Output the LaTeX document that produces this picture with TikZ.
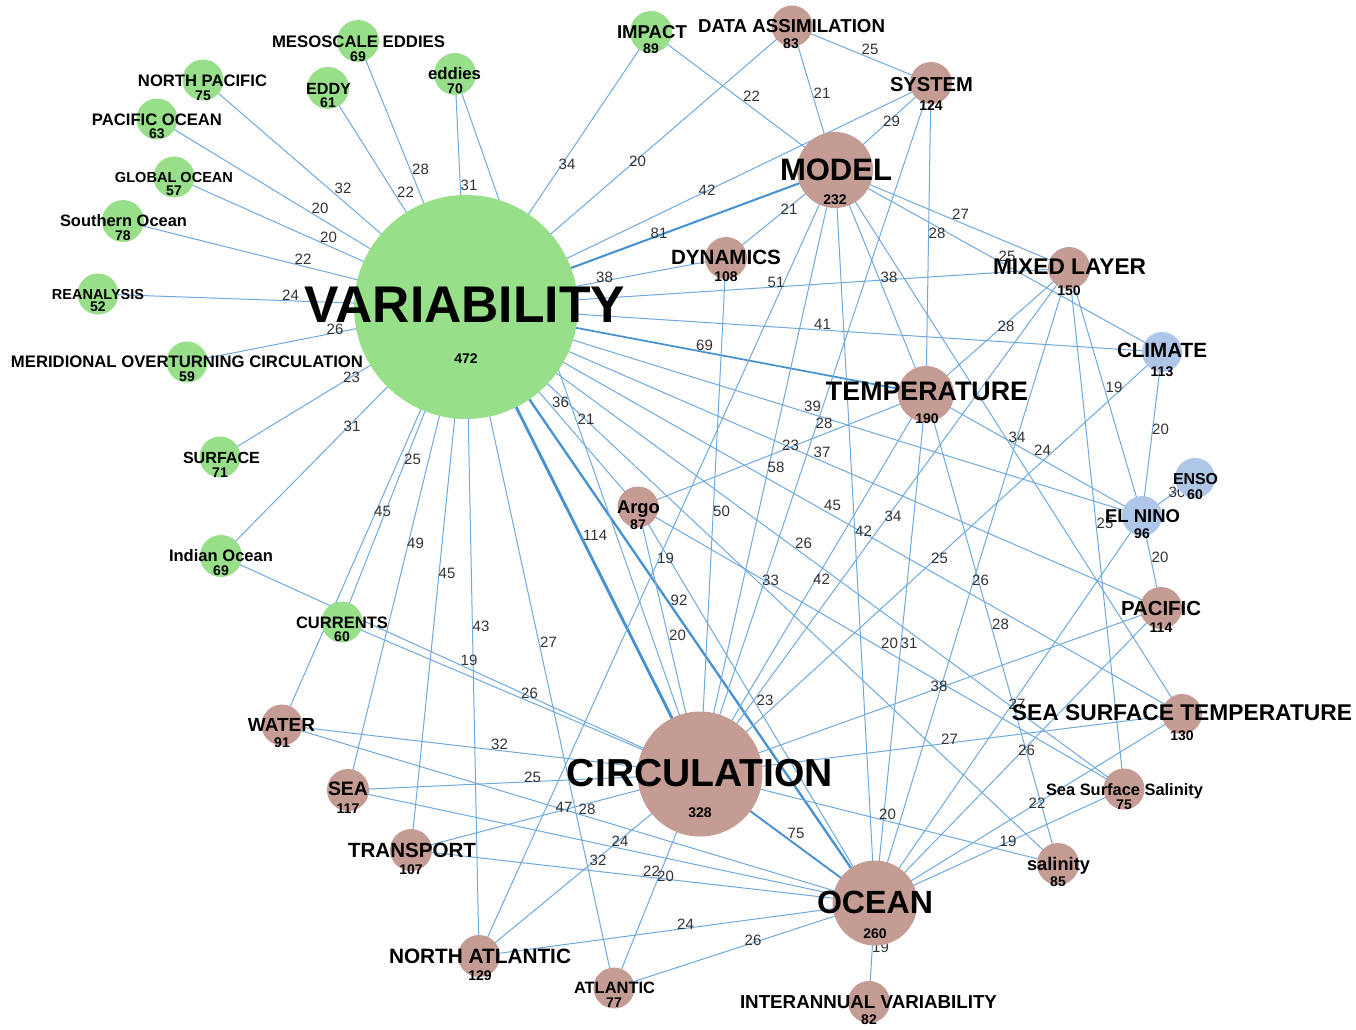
\documentclass[tikz,border=0pt]{standalone}
\usepackage{fontspec}
\setmainfont{Liberation Sans}
\usepackage{graphicx}
\pgfdeclarelayer{bg}
\pgfdeclarelayer{edges}
\pgfdeclarelayer{elabels}
\pgfdeclarelayer{top}
\pgfsetlayers{bg,edges,elabels,main,top}
\definecolor{gnode}{HTML}{98DF8A}
\definecolor{bnode}{HTML}{C49C94}
\definecolor{lnode}{HTML}{AEC7E8}
\definecolor{ethin}{RGB}{110,170,222}
\definecolor{ethick}{RGB}{70,145,210}
\definecolor{wtxt}{RGB}{51,51,51}
\tikzset{
  vtx/.style={circle, draw=none, inner sep=0pt},
  wlab/.style={anchor=base west, inner sep=0pt, text=wtxt, font=\fontsize{15}{15}\selectfont},
  numlab/.style={anchor=center, inner sep=0pt, text=black, font=\bfseries\fontsize{14}{14}\selectfont},
  namelab/.style={anchor=base, inner sep=0pt, text=black}
}
\newcommand\vt[5]{\node[vtx, fill=#5, minimum size=#4pt] (#1) at (#2,#3) {};}
\newcommand\nm[4]{\begin{pgfonlayer}{top}\node[namelab] at (#1,#2) {\resizebox{#3pt}{!}{\bfseries #4}};\end{pgfonlayer}}
\newcommand\nb[3]{\begin{pgfonlayer}{top}\node[numlab] at (#1,#2) {#3};\end{pgfonlayer}}
\newcommand\ed[3]{%
  \ifnum#3>60\relax\pgfmathsetmacro\lw{#3/40}\def\ec{ethick}\else\def\lw{1}\def\ec{ethin}\fi
  \begin{pgfonlayer}{edges}\draw[draw=\ec, line width=\lw pt] (#1.center) -- (#2.center);\end{pgfonlayer}%
  \begin{pgfonlayer}{elabels}\path (#1.center) -- (#2.center) node[wlab, pos=0.5] {#3};\end{pgfonlayer}}
\begin{document}
\begin{tikzpicture}[x=1pt, y=-1pt]
\begin{pgfonlayer}{bg}
\fill[white] (0,0) rectangle (1356,1029);
\end{pgfonlayer}
\useasboundingbox (0,0) rectangle (1356,1029);
% nodes
\vt{V}{466}{307}{224}{gnode}
\vt{MO}{835}{170}{76}{bnode}
\vt{CI}{700}{774}{125}{bnode}
\vt{OC}{875}{903}{85}{bnode}
\vt{TE}{926}{394}{56}{bnode}
\vt{ML}{1069}{268}{42}{bnode}
\vt{SY}{931}{83}{42}{bnode}
\vt{DA}{792}{26}{41}{bnode}
\vt{IM}{651}{32}{42}{gnode}
\vt{DY}{726}{258}{42}{bnode}
\vt{CL}{1162}{352}{40}{lnode}
\vt{EN}{1195}{478}{40}{lnode}
\vt{EL}{1142}{516}{40}{lnode}
\vt{PA}{1161}{608}{42}{bnode}
\vt{SST}{1182}{714}{40}{bnode}
\vt{SSS}{1124}{789}{41}{bnode}
\vt{SA}{1058}{864}{42}{bnode}
\vt{IV}{869}{1002}{42}{bnode}
\vt{AT}{614}{988}{41}{bnode}
\vt{NA}{479}{956}{42}{bnode}
\vt{TR}{411}{850}{42}{bnode}
\vt{SE}{348}{790}{42}{bnode}
\vt{WA}{282}{725}{41}{bnode}
\vt{AR}{638}{507}{41}{bnode}
\vt{CU}{342}{622}{41}{gnode}
\vt{IO}{221}{556}{42}{gnode}
\vt{SU}{220}{457}{41}{gnode}
\vt{MOC}{187}{362}{41}{gnode}
\vt{RE}{98}{294}{41}{gnode}
\vt{SO}{123}{221}{42}{gnode}
\vt{GO}{174}{177}{41}{gnode}
\vt{PO}{157}{119}{41}{gnode}
\vt{NP}{203}{80}{41}{gnode}
\vt{ED}{328}{88}{42}{gnode}
\vt{ME}{358}{41}{42}{gnode}
\vt{EE}{455}{74}{42}{gnode}
% edges
\ed{V}{NP}{32}\ed{V}{PO}{20}\ed{V}{GO}{20}\ed{V}{SO}{22}\ed{V}{RE}{24}\ed{V}{MOC}{26}
\ed{V}{SU}{23}\ed{V}{IO}{31}\ed{V}{ED}{22}\ed{V}{ME}{28}\ed{V}{EE}{31}\ed{V}{IM}{34}
\ed{V}{DA}{20}\ed{V}{SY}{42}\ed{V}{MO}{81}\ed{V}{DY}{38}\ed{V}{ML}{51}\ed{V}{CL}{41}
\ed{V}{TE}{69}\ed{V}{EL}{39}\ed{V}{PA}{37}\ed{V}{SST}{45}\ed{V}{SSS}{26}\ed{V}{SA}{33}
\ed{V}{AR}{36}\ed{V}{OC}{92}\ed{V}{CI}{114}\ed{V}{CU}{25}\ed{V}{WA}{45}\ed{V}{SE}{49}
\ed{V}{TR}{45}\ed{V}{NA}{43}\ed{V}{AT}{27}
\ed{EE}{CI}{21}\ed{IO}{CI}{19}\ed{CU}{CI}{26}
\ed{DA}{SY}{25}\ed{IM}{MO}{22}\ed{DA}{MO}{21}\ed{SY}{MO}{29}\ed{DY}{MO}{21}\ed{MO}{TE}{38}
\ed{MO}{ML}{27}\ed{MO}{CL}{25}\ed{MO}{SST}{34}\ed{MO}{CI}{58}\ed{MO}{OC}{42}\ed{MO}{NA}{19}
\ed{SY}{TE}{28}\ed{SY}{CI}{28}\ed{DY}{CI}{50}
\ed{ML}{TE}{28}\ed{ML}{CI}{34}\ed{ML}{OC}{26}\ed{ML}{EL}{19}\ed{ML}{SSS}{25}
\ed{CL}{EL}{20}\ed{CL}{CI}{25}
\ed{AR}{TE}{23}\ed{TE}{EL}{24}\ed{TE}{CI}{42}\ed{TE}{OC}{31}\ed{TE}{SA}{28}
\ed{EL}{EN}{30}\ed{EL}{PA}{20}\ed{EL}{OC}{27}
\ed{PA}{CI}{38}\ed{PA}{OC}{26}
\ed{SST}{CI}{27}\ed{SST}{OC}{22}
\ed{AR}{CI}{20}\ed{AR}{OC}{23}\ed{AR}{SSS}{20}
\ed{SSS}{OC}{19}\ed{SA}{CI}{20}\ed{CI}{OC}{75}
\ed{WA}{CI}{32}\ed{WA}{OC}{28}\ed{SE}{CI}{25}\ed{SE}{OC}{24}\ed{TR}{CI}{47}\ed{TR}{OC}{22}
\ed{NA}{CI}{32}\ed{NA}{OC}{24}\ed{AT}{CI}{20}\ed{AT}{OC}{26}\ed{IV}{OC}{19}
% names
\nm{465}{322}{320}{VARIABILITY}
\nm{836}{180}{112}{MODEL}
\nm{700}{786}{266}{CIRCULATION}
\nm{875}{913}{116}{OCEAN}
\nm{927}{400}{202}{TEMPERATURE}
\nm{1069.5}{274}{153}{MIXED LAYER}
\nm{931.5}{91}{83}{SYSTEM}
\nm{791.5}{32}{187}{DATA ASSIMILATION}
\nm{652}{38}{70}{IMPACT}
\nm{726}{264}{110}{DYNAMICS}
\nm{1162}{357}{90}{CLIMATE}
\nm{1195.5}{484}{45}{ENSO}
\nm{1142.5}{522}{75}{EL NINO}
\nm{1161}{615}{80}{PACIFIC}
\nm{1182}{720}{340}{SEA SURFACE TEMPERATURE}
\nm{1124.5}{795}{157}{Sea Surface Salinity}
\nm{1058.5}{870}{63}{salinity}
\nm{868.5}{1008}{257}{INTERANNUAL VARIABILITY}
\nm{614.5}{993}{81}{ATLANTIC}
\nm{480}{963}{182}{NORTH ATLANTIC}
\nm{412}{857}{128}{TRANSPORT}
\nm{348}{795}{40}{SEA}
\nm{281.5}{731}{67}{WATER}
\nm{638.5}{513}{43}{Argo}
\nm{342}{628}{92}{CURRENTS}
\nm{221}{561}{104}{Indian Ocean}
\nm{221.5}{463}{77}{SURFACE}
\nm{187}{367}{352}{MERIDIONAL OVERTURNING CIRCULATION}
\nm{98}{299}{92}{REANALYSIS}
\nm{123.5}{226}{127}{Southern Ocean}
\nm{174}{182}{118}{GLOBAL OCEAN}
\nm{157}{125}{130}{PACIFIC OCEAN}
\nm{202.5}{86}{129}{NORTH PACIFIC}
\nm{328.5}{94}{45}{EDDY}
\nm{358.5}{47}{173}{MESOSCALE EDDIES}
\nm{454.5}{79}{53}{eddies}
% numbers
\nb{466}{359}{472}\nb{835}{200}{232}\nb{700}{813}{328}\nb{875}{934}{260}
\nb{927}{419}{190}\nb{1069}{291}{150}\nb{931}{106}{124}\nb{791}{44}{83}
\nb{651}{49}{89}\nb{726}{277}{108}\nb{1162}{372}{113}\nb{1195}{495}{60}
\nb{1142}{534}{96}\nb{1161}{628}{114}\nb{1182}{736}{130}\nb{1124}{805}{75}
\nb{1058}{882}{85}\nb{869}{1020}{82}\nb{614}{1003}{77}\nb{480}{976}{129}
\nb{411}{870}{107}\nb{348}{809}{117}\nb{282}{743}{91}\nb{638}{525}{87}
\nb{342}{637}{60}\nb{221}{571}{69}\nb{220}{473}{71}\nb{187}{377}{59}
\nb{98}{307}{52}\nb{123}{236}{78}\nb{174}{191}{57}\nb{157}{134}{63}
\nb{203}{96}{75}\nb{328}{103}{61}\nb{358}{57}{69}\nb{455}{89}{70}
\end{tikzpicture}
\end{document}
